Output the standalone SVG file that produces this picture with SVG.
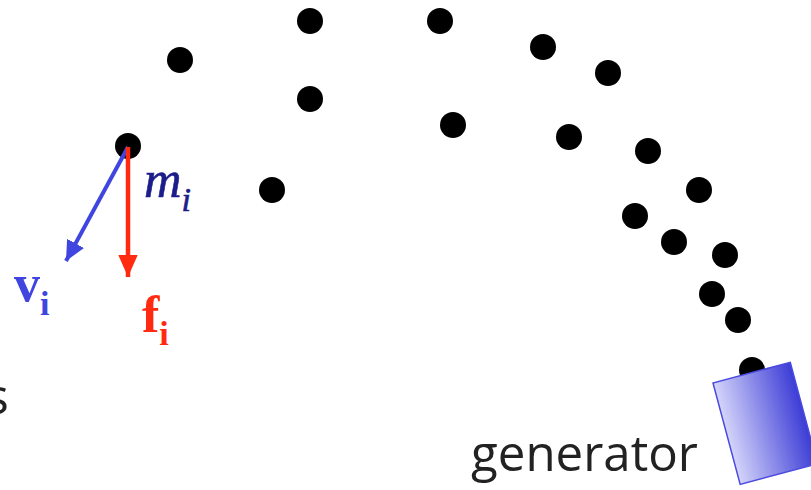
<svg xmlns="http://www.w3.org/2000/svg" width="811" height="490" viewBox="0 0 811 490">
<defs>
<style>
.dot{fill:#000}
.lbl{font-family:"Liberation Serif","Times New Roman",serif}
.sans{font-family:"Open Sans","Noto Sans",sans-serif;fill:#222}
</style>
<linearGradient id="gen" x1="0" y1="0" x2="1" y2="0">
<stop offset="0" stop-color="#d4d4fa"/>
<stop offset="1" stop-color="#3c3cd6"/>
</linearGradient>
<marker id="ab" markerWidth="6" markerHeight="6" refX="5" refY="3" orient="auto" markerUnits="strokeWidth"><path d="M0,0.6 L5,3 L0,5.4 z" fill="#4045e0"/></marker>
<marker id="ar" markerWidth="6" markerHeight="6" refX="5" refY="3" orient="auto" markerUnits="strokeWidth"><path d="M0,0.8 L5,3 L0,5.2 z" fill="#ff2a10"/></marker>
</defs>
<rect width="811" height="490" fill="#fff"/>
<g id="particles">
<circle class="dot" cx="180" cy="60" r="13"/>
<circle class="dot" cx="310" cy="21" r="13"/>
<circle class="dot" cx="440" cy="21" r="13"/>
<circle class="dot" cx="310" cy="99" r="13"/>
<circle class="dot" cx="453" cy="125" r="13"/>
<circle class="dot" cx="272" cy="190" r="13"/>
<circle class="dot" cx="543" cy="47" r="13"/>
<circle class="dot" cx="608" cy="73" r="13"/>
<circle class="dot" cx="569" cy="137" r="13"/>
<circle class="dot" cx="648" cy="151" r="13"/>
<circle class="dot" cx="699" cy="190" r="13"/>
<circle class="dot" cx="635" cy="216" r="13"/>
<circle class="dot" cx="674" cy="242" r="13"/>
<circle class="dot" cx="725" cy="255" r="13"/>
<circle class="dot" cx="712" cy="294" r="13"/>
<circle class="dot" cx="738" cy="320" r="13"/>
<circle class="dot" cx="752" cy="370" r="13"/>
</g>
<g id="particle-i">
<circle class="dot" cx="128" cy="146" r="13"/>
</g>
<g id="connectors">
<line x1="128" y1="147" x2="66" y2="261" stroke="#4045e0" stroke-width="4" marker-end="url(#ab)"/>
<line x1="128" y1="147" x2="128" y2="277" stroke="#ff2a10" stroke-width="4.5" marker-end="url(#ar)"/>
</g>
<g id="labels">
<text class="lbl" x="144" y="197" font-size="52" font-style="italic" fill="#1c1c8a" stroke="#1c1c8a" stroke-width="0.6">m<tspan font-size="34" dy="14">i</tspan></text>
<text class="lbl" x="14" y="301" font-size="52" font-weight="bold" fill="#4045e0">v<tspan font-size="34" dy="14">i</tspan></text>
<text class="lbl" x="142" y="332" font-size="52" font-weight="bold" fill="#ff2a10">f<tspan font-size="34" dy="13">i</tspan></text>
</g>
<g id="generator">
<rect x="0" y="0" width="80" height="105" fill="url(#gen)" stroke="#4a4ae0" stroke-width="1.5" transform="translate(713,383) rotate(-15)"/>
<text class="sans" x="471" y="471" font-size="50" textLength="227" lengthAdjust="spacingAndGlyphs">generator</text>
</g>
<text class="sans" x="-15" y="414" font-size="50">s</text>
</svg>
